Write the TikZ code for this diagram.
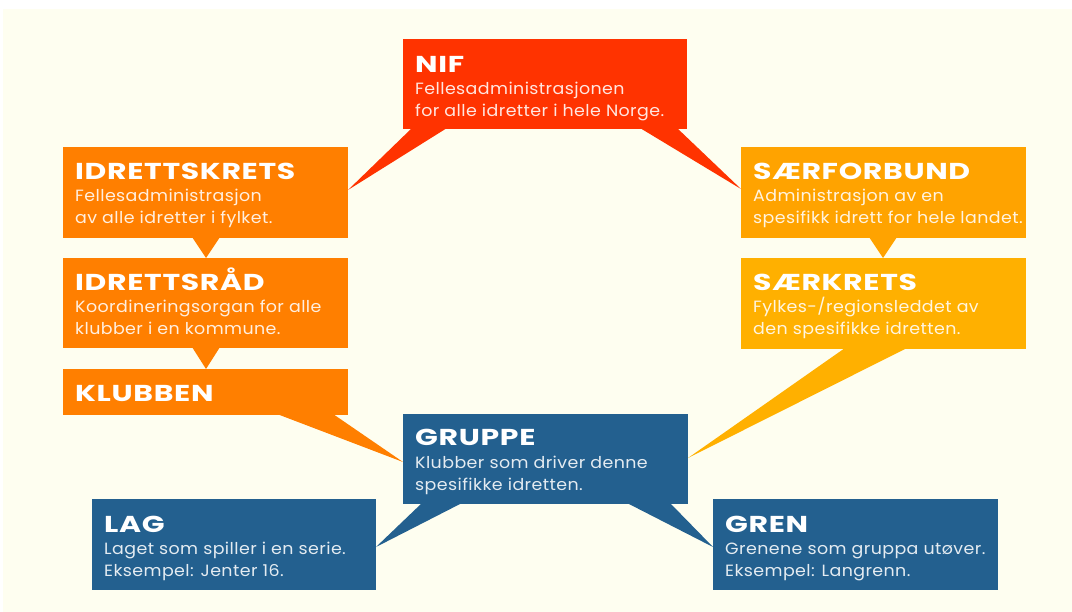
\documentclass[tikz,border=0pt]{standalone}
\usepackage{fontspec}
\setmainfont{Poppins}
\newfontfamily\ttlfont[FakeStretch=1.3, LetterSpace=3]{Poppins}
\newfontfamily\bdyfont[FakeStretch=1.07, LetterSpace=2.5]{Poppins}
\usetikzlibrary{calc}
\definecolor{cream}{HTML}{FEFEF0}
\definecolor{nifred}{HTML}{FF3300}
\definecolor{orng}{HTML}{FF7F00}
\definecolor{sfgold}{HTML}{FFA300}
\definecolor{skgold}{HTML}{FFB000}
\definecolor{blu}{HTML}{23608F}
\pgfdeclarelayer{bg}
\pgfdeclarelayer{tails}
\pgfsetlayers{bg,tails,main}
\tikzset{
  box/.style={rectangle, inner sep=0pt, outer sep=0pt, anchor=north west,
    minimum width=285pt, minimum height=91pt},
  ttl/.style={anchor=base west, inner sep=0pt, text=white,
    font=\ttlfont\fontsize{23}{27}\selectfont\bfseries},
  bdy/.style={anchor=base west, inner sep=0pt, text=white, text opacity=0.88,
    font=\bdyfont\fontsize{16.3}{20}\selectfont},
}
\begin{document}
\begin{tikzpicture}[x=1pt, y=-1pt]
\useasboundingbox (0,0) rectangle (1072,612);
\begin{pgfonlayer}{bg}
  \fill[white] (0,0) rectangle (1072,612);
  \fill[cream] (3,9) rectangle (1072,612);
\end{pgfonlayer}

% boxes
\node[box, fill=nifred, minimum width=284pt, minimum height=90pt] (nif) at (403,39) {};
\node[box, fill=orng] (krets) at (63,147) {};
\node[box, fill=orng, minimum height=90pt] (raad) at (63,258) {};
\node[box, fill=orng, minimum height=46pt] (klubb) at (63,369) {};
\node[box, fill=sfgold] (sfb) at (741,147) {};
\node[box, fill=skgold] (skr) at (741,258) {};
\node[box, fill=blu, minimum height=90pt] (gruppe) at (403,414) {};
\node[box, fill=blu, minimum width=284pt] (lag) at (92,499) {};
\node[box, fill=blu] (gren) at (713,499) {};

% tails
\begin{pgfonlayer}{tails}
  \fill[nifred] ($(nif.south west)+(9,-1)$) -- ($(nif.south west)+(44,-1)$) -- ($(krets.north east)+(0,43)$) -- cycle;
  \fill[nifred] ($(nif.south east)+(-47,-1)$) -- ($(nif.south east)+(-10,-1)$) -- ($(sfb.north west)+(0,42)$) -- cycle;
  \fill[orng] ($(krets.south west)+(129,-1)$) -- ($(krets.south west)+(157,-1)$) -- ($(raad.north west)+(143,0)$) -- cycle;
  \fill[orng] ($(raad.south west)+(129,-1)$) -- ($(raad.south west)+(157,-1)$) -- ($(klubb.north west)+(143,0)$) -- cycle;
  \fill[orng] ($(klubb.south west)+(214,-1)$) -- ($(klubb.south west)+(270,-1)$) -- ($(gruppe.north west)+(0,48)$) -- cycle;
  \fill[sfgold] ($(sfb.south west)+(128,-1)$) -- ($(sfb.south west)+(156,-1)$) -- ($(skr.north west)+(142,0)$) -- cycle;
  \fill[skgold] ($(skr.south west)+(104,-1)$) -- ($(skr.south west)+(166,-1)$) -- ($(gruppe.north east)+(0,44)$) -- cycle;
  \fill[blu] ($(gruppe.south west)+(19,-1)$) -- ($(gruppe.south west)+(59,-1)$) -- ($(lag.north east)+(0,48)$) -- cycle;
  \fill[blu] ($(gruppe.south east)+(-61,-1)$) -- ($(gruppe.south east)+(-18,-1)$) -- ($(gren.north west)+(0,48)$) -- cycle;
\end{pgfonlayer}

% texts
\node[ttl] (nift) at ($(nif.north west)+(12,34)$) {NIF};
\node[bdy] (nifa) at ($(nif.north west)+(12,56)$) {Fellesadministrasjonen};
\node[bdy] (nifb) at ($(nif.north west)+(12,78)$) {for alle idretter i hele Norge.};

\node[ttl] (kretst) at ($(krets.north west)+(12,33)$) {IDRETTSKRETS};
\node[bdy] (kretsa) at ($(krets.north west)+(12,55)$) {Fellesadministrasjon};
\node[bdy] (kretsb) at ($(krets.north west)+(12,77)$) {av alle idretter i fylket.};

\node[ttl] (raadt) at ($(raad.north west)+(12,33)$) {IDRETTSRÅD};
\node[bdy] (raada) at ($(raad.north west)+(12,55)$) {Koordineringsorgan for alle};
\node[bdy] (raadb) at ($(raad.north west)+(12,77)$) {klubber i en kommune.};

\node[ttl] (klubbt) at ($(klubb.north west)+(12,33)$) {KLUBBEN};

\node[ttl] (sfbt) at ($(sfb.north west)+(12,33)$) {SÆRFORBUND};
\node[bdy] (sfba) at ($(sfb.north west)+(12,55)$) {Administrasjon av en};
\node[bdy] (sfbb) at ($(sfb.north west)+(12,77)$) {spesifikk idrett for hele landet.};

\node[ttl] (skrt) at ($(skr.north west)+(12,33)$) {SÆRKRETS};
\node[bdy] (skra) at ($(skr.north west)+(12,55)$) {Fylkes-/regionsleddet av};
\node[bdy] (skrb) at ($(skr.north west)+(12,77)$) {den spesifikke idretten.};

\node[ttl] (gruppet) at ($(gruppe.north west)+(12,32)$) {GRUPPE};
\node[bdy] (gruppea) at ($(gruppe.north west)+(12,54)$) {Klubber som driver denne};
\node[bdy] (gruppeb) at ($(gruppe.north west)+(12,76)$) {spesifikke idretten.};

\node[ttl] (lagt) at ($(lag.north west)+(12,33)$) {LAG};
\node[bdy] (laga) at ($(lag.north west)+(12,55)$) {Laget som spiller i en serie.};
\node[bdy] (lagb) at ($(lag.north west)+(12,77)$) {Eksempel: Jenter 16.};

\node[ttl] (grent) at ($(gren.north west)+(12,33)$) {GREN};
\node[bdy] (grena) at ($(gren.north west)+(12,55)$) {Grenene som gruppa utøver.};
\node[bdy] (grenb) at ($(gren.north west)+(12,77)$) {Eksempel: Langrenn.};
\end{tikzpicture}
\end{document}
